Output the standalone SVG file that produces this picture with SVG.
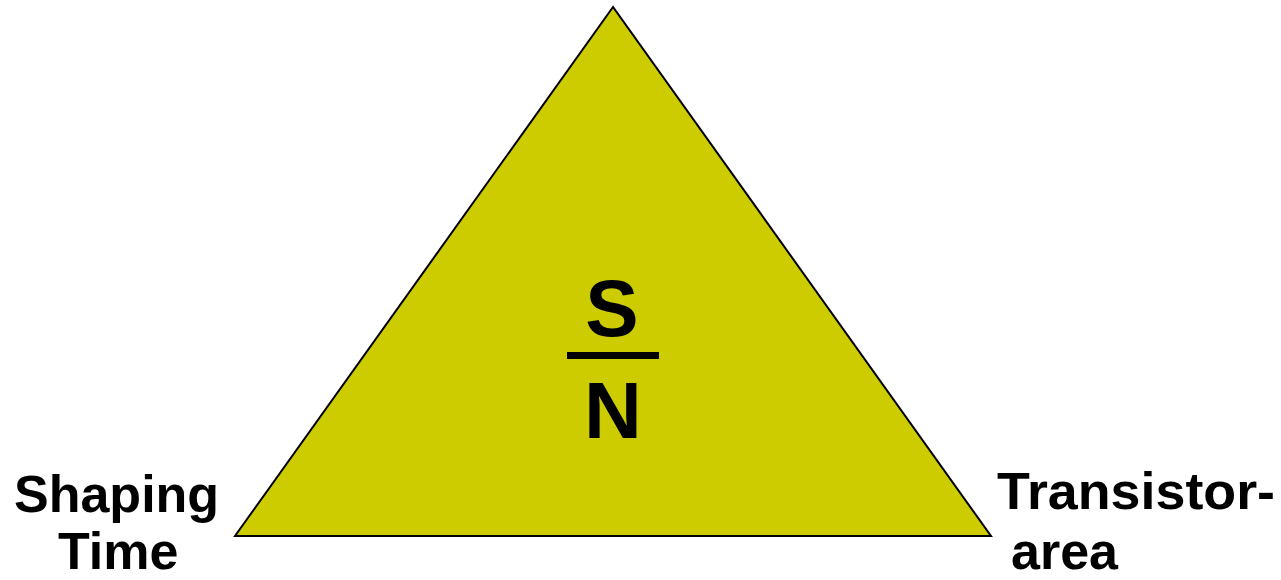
<svg xmlns="http://www.w3.org/2000/svg" width="1281" height="580" viewBox="0 0 1281 580">
<style>
.t{font-family:"Liberation Sans",Arial,sans-serif;font-weight:bold;fill:#000}
.lbl{font-size:52px}
.big{font-size:80px;text-anchor:middle}
</style>
<rect width="1281" height="580" fill="#fff"/>
<g id="triangle">
<polygon points="613,7 235,536 991,536" fill="#CCCC00" stroke="#000" stroke-width="2" stroke-linejoin="miter"/>
<text class="t big" x="612" y="336">S</text>
<rect x="567" y="352" width="92" height="7" fill="#000"/>
<text class="t big" x="613" y="438">N</text>
</g>
<g id="shaping">
<text class="t lbl" x="14" y="512">Shaping</text>
<text class="t lbl" x="58" y="569">Time</text>
</g>
<g id="transistor">
<text class="t lbl" x="997" y="509" textLength="278" lengthAdjust="spacingAndGlyphs">Transistor-</text>
<text class="t lbl" x="1011" y="569">area</text>
</g>
<g id="connectors"/>
</svg>
